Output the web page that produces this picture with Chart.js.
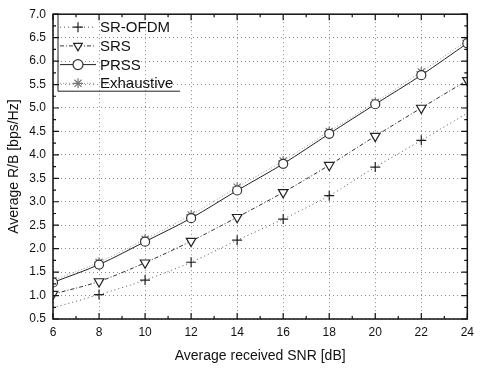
<!DOCTYPE html>
<html>
<head>
<meta charset="utf-8">
<script src="https://cdn.jsdelivr.net/npm/chart.js@4.4.1/dist/chart.umd.min.js"></script>
<style>
  html, body { margin: 0; padding: 0; background: #fff; }
</style>
</head>
<body>
<canvas id="myChart" width="480" height="368"></canvas>
<script>
// data
const snr = [6, 8, 10, 12, 14, 16, 18, 20, 22, 24];
const srOfdm = [0.74, 1.02, 1.33, 1.71, 2.18, 2.63, 3.13, 3.74, 4.31, 4.89];
const srs = [1.03, 1.30, 1.70, 2.16, 2.67, 3.20, 3.78, 4.40, 5.00, 5.59];
const prss = [1.28, 1.66, 2.15, 2.65, 3.24, 3.81, 4.45, 5.08, 5.70, 6.38];
const exhaustive = [1.32, 1.71, 2.20, 2.72, 3.31, 3.87, 4.50, 5.12, 5.77, 6.44];
const seriesNames = ["SR-OFDM", "SRS", "PRSS", "Exhaustive"];
const xTicks = [6, 8, 10, 12, 14, 16, 18, 20, 22, 24];
const yTicks = [0.5, 1.0, 1.5, 2.0, 2.5, 3.0, 3.5, 4.0, 4.5, 5.0, 5.5, 6.0, 6.5, 7.0];

const toPoints = (ys) => snr.map((x, i) => ({ x: x, y: ys[i] }));

const styles = [
  { color: "#222", line: "#555", dash: [1, 3], pointStyle: "cross", rotation: 0, fill: "#111", radius: [0, 5, 5, 5, 5, 5, 5, 5, 5, 0] },
  { color: "#222", line: "#333", dash: [4, 2, 1, 2], pointStyle: "triangle", rotation: 180, fill: "#fff", radius: 5.5 },
  { color: "#333", line: "#222", dash: [], pointStyle: "circle", rotation: 0, fill: "#fff", radius: 4.5 },
  { color: "#777", line: "#999", dash: [1, 2], pointStyle: "star", rotation: 0, fill: "#fff", radius: 5 },
];
const values = [srOfdm, srs, prss, exhaustive];

const datasets = values.map((ys, i) => ({
  label: seriesNames[i],
  data: toPoints(ys),
  borderColor: styles[i].line,
  borderWidth: 1,
  borderDash: styles[i].dash,
  pointStyle: styles[i].pointStyle,
  rotation: styles[i].rotation,
  pointRadius: styles[i].radius,
  pointBorderWidth: 1.2,
  pointBorderColor: styles[i].color,
  pointBackgroundColor: styles[i].fill,
  tension: 0.3,
  fill: false,
}));

// frame + inward ticks + legend box
const framePlugin = {
  id: "frame",
  afterDraw(chart) {
    const ctx = chart.ctx;
    const a = chart.chartArea;
    const xs = chart.scales.x, ys = chart.scales.y;
    ctx.save();
    ctx.strokeStyle = "#111";
    ctx.lineWidth = 1.5;
    ctx.strokeRect(a.left, a.top, a.right - a.left, a.bottom - a.top);
    ctx.lineWidth = 1.2;
    ctx.beginPath();
    for (let v = 6; v <= 24; v += 1) {
      const px = xs.getPixelForValue(v);
      const len = v % 2 === 0 ? 6 : 3;
      ctx.moveTo(px, a.bottom); ctx.lineTo(px, a.bottom - len);
      ctx.moveTo(px, a.top); ctx.lineTo(px, a.top + len);
    }
    for (let v = 0.5; v <= 7.0001; v += 0.25) {
      const py = ys.getPixelForValue(v);
      const len = Math.abs(v * 2 - Math.round(v * 2)) < 0.01 ? 6 : 3;
      ctx.moveTo(a.left, py); ctx.lineTo(a.left + len, py);
      ctx.moveTo(a.right, py); ctx.lineTo(a.right - len, py);
    }
    ctx.stroke();

    // legend
    const lx = a.left + 5, rowH = 18.7, ty = a.top + 13;
    ctx.lineWidth = 1;
    ctx.strokeStyle = "#222";
    ctx.beginPath();
    ctx.moveTo(lx, a.top); ctx.lineTo(lx, a.top + 77);
    ctx.lineTo(lx + 122, a.top + 77);
    ctx.stroke();
    ctx.font = "15px 'Liberation Sans', Arial, sans-serif";
    ctx.textBaseline = "middle";
    ctx.fillStyle = "#111";
    seriesNames.forEach((name, i) => {
      const y = ty + i * rowH;
      const s = styles[i];
      ctx.save();
      ctx.strokeStyle = s.line;
      ctx.lineWidth = 1;
      ctx.setLineDash(s.dash);
      ctx.beginPath();
      ctx.moveTo(lx + 2, y); ctx.lineTo(lx + 38, y);
      ctx.stroke();
      ctx.setLineDash([]);
      ctx.lineWidth = 1.2;
      ctx.strokeStyle = s.color;
      ctx.fillStyle = s.fill;
      Chart.helpers.drawPoint(ctx, {
        pointStyle: s.pointStyle, radius: 5, rotation: s.rotation, borderWidth: 1.2,
      }, lx + 20, y);
      ctx.restore();
      ctx.fillText(name, lx + 42, y + 1);
    });
    ctx.restore();
  },
};

const tickFont = { family: "'Liberation Sans', Arial, sans-serif", size: 12 };
const titleFont = { family: "'Liberation Sans', Arial, sans-serif", size: 14 };

const config = {
  type: "line",
  data: { datasets: datasets },
  options: {
    responsive: false,
    animation: false,
    layout: { padding: { top: 10, right: 7, left: 0, bottom: 0 } },
    plugins: { legend: { display: false }, tooltip: { enabled: false } },
    scales: {
      x: {
        type: "linear",
        min: 6,
        max: 24,
        afterBuildTicks: (scale) => { scale.ticks = xTicks.map((v) => ({ value: v })); },
        afterFit: (scale) => { scale.height = 49; },
        ticks: { font: tickFont, color: "#111", padding: 6 },
        grid: { color: "#8a8a8a", lineWidth: 1, drawTicks: false },
        border: { display: false, dash: [1, 3] },
        title: { display: true, text: "Average received SNR [dB]", font: titleFont, color: "#111", padding: { top: 0, bottom: 3 } },
      },
      y: {
        min: 0.5,
        max: 7.0,
        afterBuildTicks: (scale) => { scale.ticks = yTicks.map((v) => ({ value: v })); },
        afterFit: (scale) => { scale.width = 53; },
        ticks: { font: tickFont, color: "#111", padding: 7, callback: (v) => Number(v).toFixed(1) },
        grid: { color: "#8a8a8a", lineWidth: 1, drawTicks: false },
        border: { display: false, dash: [1, 3] },
        title: { display: true, text: "Average R/B [bps/Hz]", font: titleFont, color: "#111", padding: { top: 6, bottom: 0 } },
      },
    },
  },
  plugins: [framePlugin],
};

const myChart = new Chart(document.getElementById("myChart"), config);
</script>
</body>
</html>
